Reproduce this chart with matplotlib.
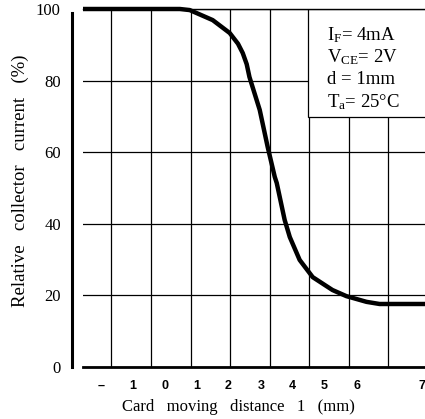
import numpy as np
import matplotlib
matplotlib.use("Agg")
from matplotlib import pyplot as plt

# curve (x in grid units, y in %)
curve_x = [0.28, 2.73, 2.98, 3.56, 3.99, 4.20, 4.32, 4.42, 4.49, 4.75, 4.95,
           5.13, 5.18, 5.38, 5.51, 5.76, 6.09, 6.59, 6.94, 7.45, 7.78, 8.93]
curve_y = [100, 100, 99.7, 96.9, 93.3, 90.3, 87.7, 84.6, 81.0, 71.8, 61.5,
           53.1, 51.4, 41.1, 36.3, 29.9, 25.1, 21.5, 19.8, 18.2, 17.6, 17.6]

grid_x = [1, 2, 3, 4, 5, 6, 7, 8]

xtick_pos = [0.75, 1.54, 2.35, 3.15, 3.94, 4.78, 5.58, 6.39, 7.20, 8.86]
xtick_labels = ["–", "1", "0", "1", "2", "3", "4", "5", "6", "7"]
ytick_pos = [0, 20, 40, 60, 80, 100]
ytick_labels = ["0", "20", "40", "60", "80", "100"]

conditions = ["$\\mathregular{I_F}$= 4mA", "$\\mathregular{V_{CE}}$= 2V",
              "d = 1mm", "$\\mathregular{T_a}$= 25°C"]

plt.rcParams["font.family"] = ["Liberation Serif", "DejaVu Serif"]
plt.rcParams["mathtext.fontset"] = "custom"
plt.rcParams["mathtext.rm"] = "Liberation Serif"

fig = plt.figure(figsize=(4.25, 4.19), dpi=100)
ax = fig.add_axes([83 / 425, 52 / 419, 342 / 425, 358 / 419])

# spine position first: moving it resets the ticks
ax.spines["right"].set_visible(False)
ax.spines["top"].set_linewidth(1.0)
ax.spines["bottom"].set_linewidth(2.0)
ax.spines["left"].set_linewidth(2.2)
ax.spines["left"].set_position(("outward", 8))

ax.set_xlim(0.28, 8.93)
ax.set_ylim(0, 100)
ax.spines["left"].set_bounds(0, 99.0)

ax.set_xticks(grid_x, minor=True)
ax.set_xticks(xtick_pos, xtick_labels)
ax.set_yticks(ytick_pos, ytick_labels)
ax.tick_params(which="both", length=0)
ax.tick_params(axis="x", pad=9, labelsize=9,
               labelfontfamily="Liberation Sans")
ax.tick_params(axis="y", pad=8, labelsize=12)
for lab in ax.get_xticklabels():
    lab.set_fontweight("bold")
ax.grid(axis="x", which="minor", color="black", lw=0.9)
ax.grid(axis="y", which="major", color="black", lw=0.9)

ax.plot(curve_x, curve_y, color="black", lw=3.2, solid_capstyle="butt",
        solid_joinstyle="round", clip_on=False, zorder=3)

# condition box in the top right corner
ax.add_patch(plt.Rectangle((5.98, 69.8), 3.2, 30.2, facecolor="white",
                           edgecolor="black", lw=0.9, zorder=2.5))
for i, txt in enumerate(conditions):
    ax.text(6.44, 92.7 - i * 6.2, txt, fontsize=13.5,
            va="center", ha="left", zorder=4)

ax.set_xlabel("Card   moving   distance   1   (mm)", fontsize=12)
ax.xaxis.set_label_coords(0.455, -0.09)
ax.set_ylabel("Relative   collector   current   (%)", fontsize=13.5)
ax.yaxis.set_label_coords(-0.157, 0.52)

fig.savefig("out.png", dpi=100)
